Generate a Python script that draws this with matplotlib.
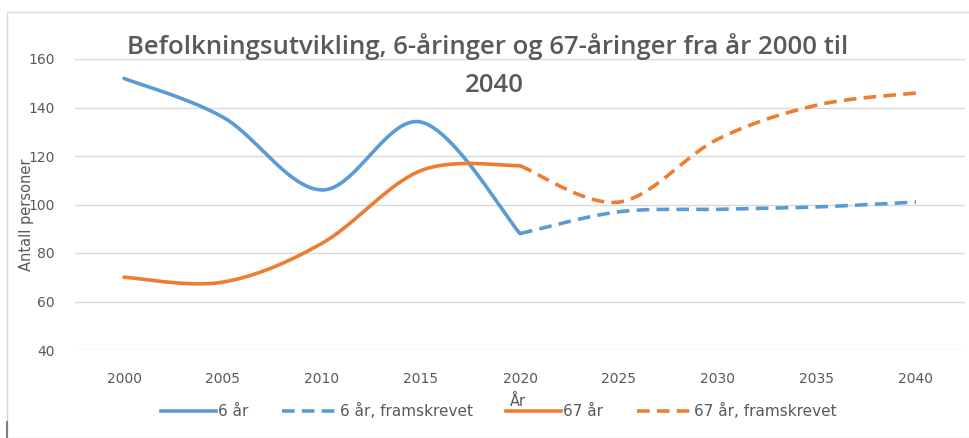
import matplotlib.pyplot as plt
import numpy as np
from matplotlib.patches import Rectangle
from matplotlib.lines import Line2D

years = ["2000", "2005", "2010", "2015", "2020", "2025", "2030", "2035", "2040"]
seks_aar = [152, 136, 106, 134, 88]
seks_aar_fram = [88, 97, 98, 99, 101]
sekstisju_aar = [70, 68, 84, 114, 116]
sekstisju_aar_fram = [116, 101, 127, 141, 146]

BLUE = "#5B9BD5"
ORANGE = "#ED7D31"
GREY = "#595959"


def smooth(xs, ys, n=40):
    # Excel-style smoothed line (Catmull-Rom through the points)
    xs = np.asarray(xs, float)
    ys = np.asarray(ys, float)
    px = np.concatenate([[xs[0]], xs, [xs[-1]]])
    py = np.concatenate([[ys[0]], ys, [ys[-1]]])
    outx, outy = [], []
    t = np.linspace(0, 1, n)
    for i in range(1, len(px) - 2):
        p0x, p1x, p2x, p3x = px[i - 1:i + 3]
        p0y, p1y, p2y, p3y = py[i - 1:i + 3]
        c1x, c1y = p1x + (p2x - p0x) / 6, p1y + (p2y - p0y) / 6
        c2x, c2y = p2x - (p3x - p1x) / 6, p2y - (p3y - p1y) / 6
        bx = (1 - t) ** 3 * p1x + 3 * (1 - t) ** 2 * t * c1x + 3 * (1 - t) * t ** 2 * c2x + t ** 3 * p2x
        by = (1 - t) ** 3 * p1y + 3 * (1 - t) ** 2 * t * c1y + 3 * (1 - t) * t ** 2 * c2y + t ** 3 * p2y
        outx.extend(bx)
        outy.extend(by)
    return outx, outy


fig = plt.figure(figsize=(9.7, 4.38), dpi=100)
fig.patches.append(Rectangle((7 / 970, 0), 1, 1 - 12 / 438, transform=fig.transFigure,
                             fill=False, edgecolor="#D9D9D9", linewidth=1.0))
fig.lines.append(Line2D([7 / 970, 7 / 970], [0, 16 / 438], transform=fig.transFigure,
                        color="#7F7F7F", lw=1.5))
ax = fig.add_axes([74.5 / 970, 1 - 350 / 438, 891 / 970, 291 / 438])

x_hist = np.arange(0, 5)
x_fram = np.arange(4, 9)
lw = 2.6
dash = (0, (3.5, 2))
ax.plot(*smooth(x_hist, seks_aar), color=BLUE, lw=lw, solid_capstyle="round", zorder=3)
ax.plot(*smooth(x_fram, seks_aar_fram), color=BLUE, lw=lw, ls=dash, zorder=3)
ax.plot(*smooth(x_hist, sekstisju_aar), color=ORANGE, lw=lw, solid_capstyle="round", zorder=3)
ax.plot(*smooth(x_fram, sekstisju_aar_fram), color=ORANGE, lw=lw, ls=dash, zorder=3)

ax.set_xlim(-0.5, 8.5)
ax.set_ylim(40, 160)
ax.set_yticks(range(40, 161, 20))
ax.set_xticks(range(len(years)))
ax.set_xticklabels(years)
ax.grid(axis="y", color="#D9D9D9", lw=1)
ax.set_axisbelow(True)
for s in ax.spines.values():
    s.set_visible(False)
ax.tick_params(length=0, colors=GREY, labelsize=10)
ax.tick_params(axis="x", pad=16)
ax.tick_params(axis="y", pad=14)

title_kw = dict(ha="center", va="center", fontsize=18.5, fontweight="semibold", color=GREY,
                family=["Open Sans", "DejaVu Sans"])
fig.text(488 / 970, 1 - 47 / 438, "Befolkningsutvikling, 6-åringer og 67-åringer fra år 2000 til", **title_kw)
fig.text(494 / 970, 1 - 85 / 438, "2040", **title_kw)
fig.text(27 / 970, 1 - 215 / 438, "Antall personer", rotation=90, ha="center", va="center",
         fontsize=10.5, color=GREY)
fig.text(518 / 970, 1 - 401 / 438, "År", ha="center", va="center", fontsize=10.5, color=GREY)

handles = [
    Line2D([], [], color=BLUE, lw=lw),
    Line2D([], [], color=BLUE, lw=lw, ls=dash),
    Line2D([], [], color=ORANGE, lw=lw),
    Line2D([], [], color=ORANGE, lw=lw, ls=dash),
]
labels = ["6 år", "6 år, framskrevet", "67 år", "67 år, framskrevet"]
fig.legend(handles, labels, loc="center", bbox_to_anchor=(499 / 970, 1 - 411 / 438), ncol=4,
           frameon=False, fontsize=11, labelcolor=GREY, handlelength=3.6, handletextpad=0.15,
           columnspacing=2.2)

fig.savefig("out.png", dpi=100)
